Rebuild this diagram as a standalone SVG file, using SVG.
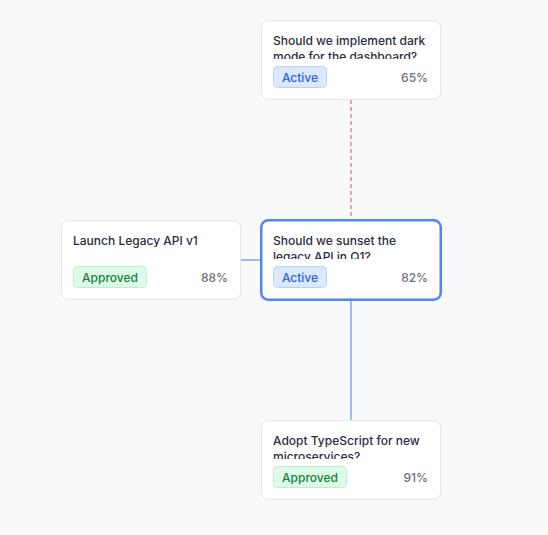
<svg xmlns="http://www.w3.org/2000/svg" width="548" height="535" viewBox="0 0 548 535">
<style>
.card{fill:#ffffff;stroke:#e5e7eb;stroke-width:1}
.sel{fill:#ffffff;stroke:#4f86f0;stroke-width:2.5}
.title{font-family:Inter,"Liberation Sans",sans-serif;font-size:12px;font-weight:500;fill:#2a2d3e}
.pct{font-family:Inter,"Liberation Sans",sans-serif;font-size:12px;font-weight:500;fill:#6b6f80;text-anchor:end}
.badge-a{fill:#dbe8fe;stroke:#b9d2fb;stroke-width:1}
.badge-p{fill:#dcfce7;stroke:#bbf0cc;stroke-width:1}
.bt-a{font-family:Inter,"Liberation Sans",sans-serif;font-size:12px;font-weight:500;fill:#2563eb;text-anchor:middle}
.bt-p{font-family:Inter,"Liberation Sans",sans-serif;font-size:12px;font-weight:500;fill:#17803d;text-anchor:middle}
</style>
<defs>
<clipPath id="c1"><rect x="261" y="20" width="180" height="39"/></clipPath>
<clipPath id="c3"><rect x="261" y="220" width="180" height="39"/></clipPath>
<clipPath id="c4"><rect x="261" y="420" width="180" height="39"/></clipPath>
</defs>
<rect width="548" height="535" fill="#f8f9fb"/>
<g id="connectors">
<line x1="351" y1="100" x2="351" y2="220" stroke="#f07070" stroke-width="1.3" stroke-dasharray="4,3"/>
<line x1="351" y1="300" x2="351" y2="420" stroke="#7ea3f2" stroke-width="1.5"/>
<line x1="241" y1="260" x2="261" y2="260" stroke="#7ea3f2" stroke-width="1.5"/>
</g>
<g id="node-dark-mode">
<rect class="card" x="261.5" y="20.5" width="179" height="79" rx="7"/>
<g clip-path="url(#c1)">
<text class="title" x="273" y="45">Should we implement dark</text>
<text class="title" x="273" y="61">mode for the dashboard?</text>
</g>
<rect class="badge-a" x="273.5" y="66.5" width="53" height="21" rx="4"/>
<text class="bt-a" x="300" y="81.5">Active</text>
<text class="pct" x="428" y="81.5">65%</text>
</g>
<g id="node-legacy-v1">
<rect class="card" x="61.5" y="220.5" width="179" height="79" rx="7"/>
<text class="title" x="73" y="245">Launch Legacy API v1</text>
<rect class="badge-p" x="73.5" y="266.5" width="73" height="21" rx="4"/>
<text class="bt-p" x="110" y="281.5">Approved</text>
<text class="pct" x="228" y="281.5">88%</text>
</g>
<g id="node-sunset">
<rect class="sel" x="261.25" y="220.25" width="179.5" height="79.5" rx="7"/>
<g clip-path="url(#c3)">
<text class="title" x="273" y="245">Should we sunset the</text>
<text class="title" x="273" y="261">legacy API in Q1?</text>
</g>
<rect class="badge-a" x="273.5" y="266.5" width="53" height="21" rx="4"/>
<text class="bt-a" x="300" y="281.5">Active</text>
<text class="pct" x="428" y="281.5">82%</text>
</g>
<g id="node-typescript">
<rect class="card" x="261.5" y="420.5" width="179" height="79" rx="7"/>
<g clip-path="url(#c4)">
<text class="title" x="273" y="445">Adopt TypeScript for new</text>
<text class="title" x="273" y="461">microservices?</text>
</g>
<rect class="badge-p" x="273.5" y="466.5" width="73" height="21" rx="4"/>
<text class="bt-p" x="310" y="481.5">Approved</text>
<text class="pct" x="428" y="481.5">91%</text>
</g>
</svg>
